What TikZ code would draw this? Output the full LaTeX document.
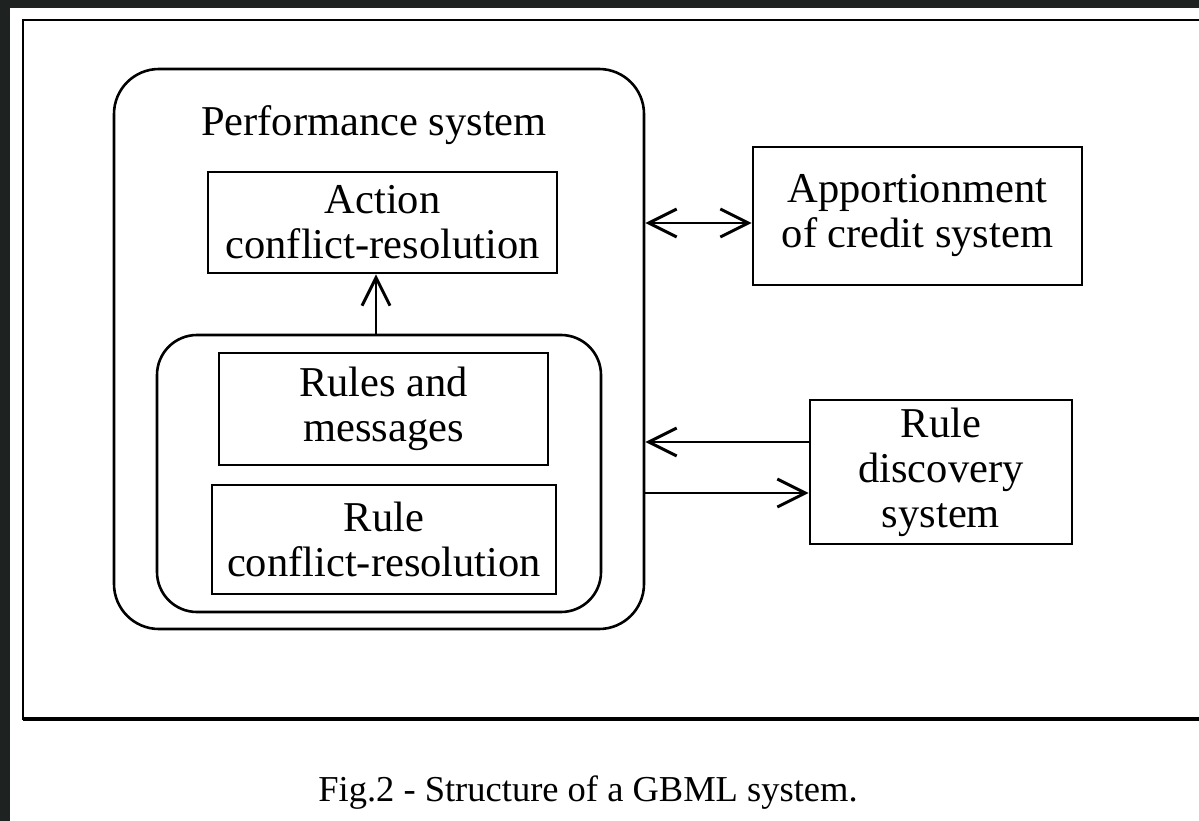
\documentclass[tikz,border=0pt]{standalone}
\usepackage{fontspec}
\setmainfont{Liberation Serif}
\usetikzlibrary{arrows.meta}
\definecolor{darkbg}{HTML}{1E2220}
\begin{document}
\begin{tikzpicture}[x=1pt,y=-1pt,
  lw/.style={line width=2.6pt},
  box/.style={draw,lw,inner sep=0pt,align=center,font=\fontsize{42.5}{45}\selectfont},
  rbox/.style={draw,lw,inner sep=0pt},
  conn/.style={lw,-{Straight Barb[length=28pt,width=28pt,line width=3pt]}},
  dconn/.style={lw,{Straight Barb[length=28pt,width=28pt,line width=3pt]}-{Straight Barb[length=28pt,width=28pt,line width=3pt]}}
  ]
\useasboundingbox (0,0) rectangle (1199,821);
\fill[darkbg] (0,0) rectangle (1199,821);
\fill[white] (10,8) rectangle (1199,821);
% outer frame
\draw[line width=2.2pt] (1210,20) -- (23,20) -- (23,719) -- (1210,719);
\draw[line width=4pt] (23,719) -- (1210,719);

% performance system
\node[rbox,rounded corners=45pt,minimum width=530pt,minimum height=560pt] (perf) at (379,349) {};
\node[anchor=base,font=\fontsize{42.5}{45}\selectfont] (perftitle) at (374,136) {Performance system};
\node[box,minimum width=349pt,minimum height=101pt] (action) at (382.5,222.5) {Action\\conflict-resolution};
\node[rbox,rounded corners=40pt,minimum width=444pt,minimum height=277pt] (inner) at (379,473.5) {};
\node[box,minimum width=329pt,minimum height=112pt] (rules) at (383.5,409) {Rules and\\messages};
\node[box,minimum width=344pt,minimum height=109pt] (rcr) at (384,539.5) {Rule\\conflict-resolution};

% right boxes
\node[box,minimum width=329pt,minimum height=138pt] (appo) at (917.5,216) {Apportionment\\of credit system};
\node[box,minimum width=262pt,minimum height=144pt] (disc) at (941,472) {Rule\\discovery\\system};

% connectors
\draw[conn] ([xshift=-3pt]inner.north) -- ([xshift=-3pt]inner.north |- action.south);
\draw[dconn] ([yshift=-7pt]perf.east |- appo.west) -- ([yshift=-7pt]appo.west);
\draw[conn] ([yshift=30pt]disc.west) -- ([yshift=30pt]perf.east |- disc.west);
\draw[conn] ([yshift=-21pt]perf.east |- disc.west) -- ([yshift=-21pt]disc.west);

% caption
\node[font=\fontsize{36.5}{40}\selectfont] (caption) at (588,793) {Fig.2 - Structure of a GBML system.};
\end{tikzpicture}
\end{document}
